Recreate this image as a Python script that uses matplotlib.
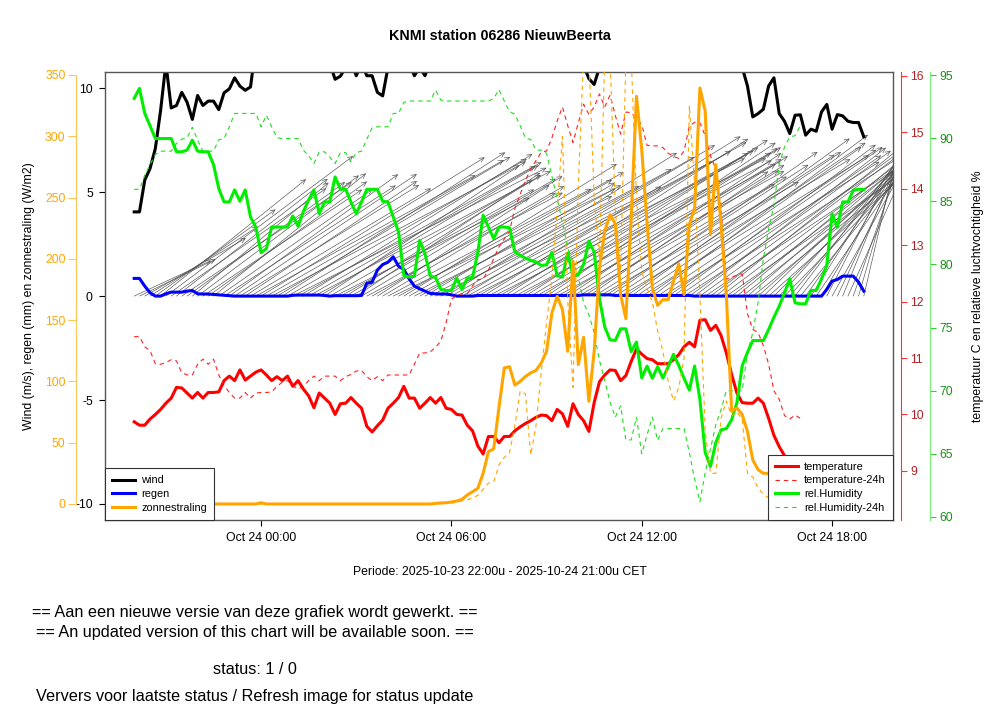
import numpy as np
import pandas as pd
import matplotlib
matplotlib.use("Agg")
import matplotlib.pyplot as plt
import matplotlib.dates as mdates
from matplotlib.patches import FancyArrowPatch
from matplotlib.lines import Line2D

plt.rcParams['font.family'] = ['Liberation Sans', 'DejaVu Sans']
plt.rcParams['axes.unicode_minus'] = False

# 10-minute values, first sample 2025-10-23 20:00 (time as on the axis)
start = '2025-10-23 20:00'

wind = [4.05, 4.05, 5.58, 6.14, 7.1, 8.94, 11.2, 9.05, 9.17, 9.8,
        9.33, 8.5, 9.65, 9.17, 9.38, 9.38, 8.97, 9.78, 9.97, 10.5,
        10.1, 9.9, 10.06, 12.0, 12.6, 13.1, 13.4, 13.0, 12.7, 13.2,
        13.6, 13.3, 12.9, 12.5, 12.8, 12.2, 11.6, 11.2, 10.43, 10.58,
        11.0, 11.3, 10.6, 11.2, 10.6, 10.6, 9.8, 9.63, 11.0, 11.8,
        12.3, 12.0, 11.2, 10.6, 11.0, 10.6, 11.3, 12.0, 12.6, 13.0,
        13.4, 13.8, 14.1, 14.4, 14.6, 14.8, 14.5, 14.2, 14.6, 14.3,
        13.9, 13.6, 13.9, 14.2, 13.8, 13.4, 13.1, 13.5, 13.2, 12.8,
        12.4, 12.7, 12.3, 11.9, 11.5, 11.1, 10.46, 10.18, 11.0, 11.6,
        12.1, 12.5, 12.8, 12.4, 12.9, 13.2, 12.8, 12.5, 12.9, 12.6,
        12.2, 12.5, 12.1, 11.8, 12.2, 11.9, 11.6, 11.9, 11.5, 11.3,
        11.6, 11.4, 11.2, 11.5, 11.1, 11.0, 10.1, 8.62, 8.78, 8.99,
        10.11, 10.5, 8.78, 8.41, 7.82, 8.7, 8.72, 7.74, 8.03, 7.93,
        8.86, 9.22, 8.03, 8.73, 8.67, 8.41, 8.35, 8.35, 7.66]

# direction the wind comes from (degrees)
wind_dir = [245, 244, 240, 237, 234, 231,
            233, 235, 232, 236, 234, 230, 233, 236, 234, 231, 235, 237, 234, 236,
            238, 236, 239, 241, 238, 240, 242, 239, 237, 240, 243, 241, 238, 240, 242, 239, 236, 240, 243, 241,
            238, 240, 236, 239, 242, 240, 237, 239, 242, 244, 241, 238, 240, 243, 241, 239, 242, 244, 241, 238,
            240, 242, 239, 241, 243, 240, 238, 241, 243, 240, 237, 239, 242, 240, 237, 239, 241, 238, 236, 239,
            241, 238, 236, 238, 240, 237, 235, 238, 240, 237, 235, 237, 239, 236, 234, 236, 238, 235, 233, 236,
            238, 235, 233, 235, 237, 234, 232, 234, 236, 233, 231, 233, 235, 232, 230, 232, 229, 231, 228, 226,
            228, 225, 222, 224, 220, 217, 219, 215, 212, 214, 210, 207, 209, 205, 202, 204, 199, 196, 193]

regen = [0.85, 0.85, 0.48, 0.16, 0.0, 0.0, 0.11, 0.19, 0.19, 0.19,
         0.24, 0.27, 0.11, 0.1, 0.1, 0.08, 0.06, 0.04, 0.02, 0.0,
         0.0, 0.0, 0.0, 0.0, 0.0, 0.0, 0.0, 0.0, 0.0, 0.0,
         0.04, 0.05, 0.05, 0.05, 0.05, 0.05, 0.03, 0.0, 0.02, 0.02,
         0.02, 0.02, 0.02, 0.03, 0.61, 0.67, 1.25, 1.52, 1.63, 1.89,
         1.44, 1.28, 0.83, 0.48, 0.35, 0.24, 0.13, 0.11, 0.1, 0.1,
         0.06, 0.0, 0.0, 0.0, 0.0, 0.03, 0.03, 0.03, 0.03, 0.03,
         0.03, 0.03, 0.03, 0.03, 0.03, 0.03, 0.03, 0.03, 0.03, 0.03,
         0.03, 0.03, 0.03, 0.03, 0.03, 0.06, 0.06, 0.06, 0.06, 0.06,
         0.06, 0.03, 0.03, 0.03, 0.03, 0.03, 0.03, 0.03, 0.03, 0.03,
         0.03, 0.03, 0.03, 0.03, 0.03, 0.03, 0.0, 0.0, 0.0, 0.0,
         0.0, 0.0, 0.0, 0.0, 0.0, 0.0, 0.0, 0.0, 0.0, 0.0,
         0.0, 0.0, 0.0, 0.0, 0.0, 0.0, 0.0, 0.0, 0.0, 0.0,
         0.0, 0.32, 0.72, 0.8, 0.96, 0.96, 0.96, 0.67, 0.24]

zon = [0, 0, 0, 0, 0, 0, 0, 0, 0, 0,
       0, 0, 0, 0, 0, 0, 0, 0, 0, 0,
       0, 0, 0, 0, 1.0, 0, 0, 0, 0, 0,
       0, 0, 0, 0, 0, 0, 0, 0, 0, 0,
       0, 0, 0, 0, 0, 0, 0, 0, 0, 0,
       0, 0, 0, 0, 0, 0, 0, 0.5, 0.8, 1.0,
       1.6, 2.4, 3.8, 7.3, 10.0, 12.8, 25.0, 42.7, 45.0, 79.0,
       111.0, 112.0, 97.0, 100.0, 104.0, 107.0, 109.0, 115.0, 124.6, 155.8,
       169.4, 158.6, 124.6, 198.0, 113.7, 136.0, 83.8, 124.6, 192.6, 222.5,
       236.0, 228.5, 170.8, 151.2, 233.4, 332.6, 289.0, 229.3, 176.2, 162.1,
       166.7, 166.7, 181.7, 195.8, 170.8, 227.9, 241.5, 339.4, 320.4, 219.7,
       276.9, 227.9, 170.8, 75.6, 78.3, 72.9, 59.0, 36.0, 28.0, 25.0,
       25.0, 20.0, 14.0, 8.0, 4.0, 1.5, 0, 0, 0, 0,
       0, 0, 0, 0, 0, 0, 0, 0, 0]

zon_24h = [0, 0, 0, 0, 0, 0, 0, 0, 0, 0,
           0, 0, 0, 0, 0, 0, 0, 0, 0, 0,
           0, 0, 0, 0, 0, 0, 0, 0, 0, 0,
           0, 0, 0, 0, 0, 0, 0, 0, 0, 0,
           0, 0, 0, 0, 0, 0, 0, 0, 0, 0,
           0, 0, 0, 0, 0, 0, 0, 0, 0.5, 0.5,
           0.8, 1.2, 2.5, 3.5, 5.0, 7.0, 12.0, 17.0, 18.0, 32.0,
           38.0, 42.0, 64.0, 92.0, 90.0, 40.0, 64.0, 108.0, 148.0, 184.0,
           240.0, 300.0, 166.0, 95.0, 260.0, 365.0, 365.0, 250.0, 200.0, 365.0,
           365.0, 240.0, 190.0, 365.0, 365.0, 250.0, 190.0, 176.0, 165.0, 141.0,
           124.6, 100.0, 84.0, 95.0, 119.0, 325.0, 260.0, 170.0, 60.0, 25.0,
           25.0, 70.0, 84.0, 72.0, 75.0, 69.0, 25.0, 22.0, 13.0, 8.0,
           5.0, 3.0, 1.0, 0, 0, 0, 0, 0, 0, 0,
           0, 0, 0, 0, 0, 0, 0, 0, 0]

temp = [9.87, 9.81, 9.81, 9.92, 10.0, 10.09, 10.2, 10.29, 10.48, 10.47,
        10.38, 10.29, 10.39, 10.29, 10.39, 10.39, 10.4, 10.6, 10.68, 10.6,
        10.79, 10.61, 10.68, 10.75, 10.79, 10.7, 10.6, 10.67, 10.6, 10.68,
        10.5, 10.6, 10.45, 10.33, 10.12, 10.38, 10.29, 10.2, 10.0, 10.19,
        10.2, 10.3, 10.2, 10.11, 9.79, 9.69, 9.8, 9.9, 10.11, 10.2,
        10.3, 10.5, 10.29, 10.29, 10.11, 10.2, 10.3, 10.2, 10.3, 10.11,
        10.09, 10.0, 9.99, 9.81, 9.71, 9.44, 9.3, 9.61, 9.61, 9.5,
        9.61, 9.61, 9.71, 9.78, 9.84, 9.89, 9.95, 9.99, 9.98, 9.89,
        10.09, 10.01, 9.79, 10.19, 10.0, 9.89, 9.7, 10.21, 10.58, 10.7,
        10.79, 10.78, 10.6, 10.69, 10.94, 11.16, 11.07, 10.99, 10.97, 10.9,
        10.9, 10.9, 10.97, 11.06, 11.2, 11.28, 11.2, 11.67, 11.68, 11.49,
        11.58, 11.4, 11.09, 10.71, 10.38, 10.21, 10.2, 10.2, 10.29, 10.2,
        9.93, 9.63, 9.43, 9.27, 9.12, 8.98, 8.85, 8.75, 8.68, 8.62,
        8.58, 8.55, 8.52, 8.5, 8.47, 8.45, 8.42, 8.4, 8.38]

nan = float('nan')
temp_24h = [11.38, 11.38, 11.2, 11.13, 10.9, 10.89, 10.92, 10.97, 10.95, 10.74,
            10.7, 10.7, 10.89, 10.98, 10.89, 10.98, 10.7, 10.51, 10.39, 10.29,
            10.29, 10.39, 10.29, 10.38, 10.39, 10.39, 10.4, 10.5, 10.57, 10.6,
            10.51, 10.45, 10.5, 10.6, 10.68, 10.6, 10.68, 10.68, 10.68, 10.6,
            10.67, 10.71, 10.77, 10.78, 10.67, 10.6, 10.67, 10.6, 10.7, 10.7,
            10.7, 10.7, 10.7, 10.89, 11.09, 11.09, 11.11, 11.19, 11.3, 11.63,
            12.04, 12.11, 12.14, 12.14, 12.28, 12.39, 12.4, 12.56, 12.76, 12.97,
            13.11, 13.25, 13.65, 13.9, 14.15, 14.35, 14.5, 14.65, 14.67, 14.9,
            15.2, 15.45, 15.12, 14.82, 15.17, 15.5, 15.32, 15.45, 15.68, 15.45,
            15.66, 15.3, 14.97, 15.36, 15.35, 15.24, 15.14, 14.77, 14.76, 14.76,
            14.73, 14.63, 14.57, 14.54, 14.67, 15.11, 15.18, 15.17, 14.94, 14.58,
            14.35, 13.64, 12.4, 12.43, 12.47, 12.49, 11.78, 11.51, 11.45, 11.22,
            10.89, 10.42, 10.27, 9.98, 9.92, 9.99, 9.93, nan, nan, nan,
            nan, nan, nan, nan, nan, nan, nan, nan, nan]

hum = [93.15, 93.94, 91.96, 90.98, 89.97, 89.97, 89.97, 89.97, 88.92, 88.92,
       89.05, 89.84, 88.97, 88.92, 88.92, 87.91, 86.01, 84.95, 84.95, 85.9,
       85.0, 85.9, 83.76, 82.96, 80.93, 81.24, 82.96, 82.96, 82.96, 82.96,
       83.84, 83.02, 84.2, 85.1, 85.9, 84.02, 84.95, 84.95, 86.93, 85.95,
       85.95, 84.95, 84.02, 84.95, 85.95, 85.95, 85.95, 85.0, 84.95, 83.76,
       82.57, 79.13, 79.0, 79.07, 81.9, 80.85, 79.07, 78.97, 78.02, 77.94,
       77.94, 78.92, 78.02, 78.92, 78.97, 80.98, 83.89, 82.96, 82.04, 82.96,
       82.96, 82.9, 81.0, 80.71, 80.5, 80.32, 80.19, 79.92, 79.97, 80.95,
       79.1, 79.0, 80.9, 79.07, 79.2, 80.0, 81.85, 80.98, 77.3, 75.05,
       74.02, 73.98, 74.9, 74.9, 73.1, 73.85, 71.02, 71.95, 70.98, 71.9,
       71.0, 71.9, 72.88, 72.0, 70.98, 70.05, 71.95, 69.3, 65.1, 64.0,
       65.88, 66.9, 67.0, 67.7, 69.05, 71.98, 73.04, 73.97, 73.97, 73.97,
       74.84, 75.82, 76.69, 77.75, 78.86, 76.96, 76.88, 76.88, 77.94, 77.94,
       78.86, 79.92, 84.0, 82.96, 84.95, 84.95, 85.87, 85.95, 85.95]

hum_24h = [85.95, 85.95, 87.06, 87.91, 88.7, 88.97, 88.97, 88.97, 89.58, 89.92,
           90.03, 90.87, 89.84, 88.97, 88.97, 88.97, 89.87, 89.97, 90.9, 91.96,
           91.96, 91.96, 91.96, 91.96, 90.9, 91.82, 90.9, 90.03, 89.97, 89.97,
           89.97, 89.97, 89.05, 88.6, 87.99, 88.92, 88.92, 88.5, 87.99, 88.86,
           88.86, 88.12, 88.86, 88.97, 89.92, 90.82, 90.9, 90.9, 90.9, 91.96,
           91.96, 92.83, 92.94, 92.94, 92.94, 92.94, 92.94, 93.81, 93.02, 92.94,
           92.94, 92.94, 92.94, 92.94, 92.94, 92.94, 92.94, 92.94, 93.15, 93.85,
           92.94, 92.1, 91.9, 91.0, 90.0, 89.9, 89.05, 89.05, 88.8, 87.0,
           85.2, 83.3, 81.3, 80.2, 79.0, 77.0, 76.0, 74.6, 72.4, 70.8,
           69.1, 67.9, 68.8, 66.1, 66.1, 67.9, 65.0, 66.5, 67.9, 66.06,
           67.0, 67.0, 67.0, 67.0, 67.0, 65.1, 63.0, 61.2, 63.5, 65.4,
           67.3, 68.5, 70.0, 70.0, 70.0, 70.0, 73.04, 74.6, 77.0, 80.45,
           82.8, 84.7, 87.9, 89.3, 90.1, 90.2, 91.0, nan, nan, nan,
           nan, nan, nan, nan, nan, nan, nan, nan, nan]

times = pd.date_range(start, periods=len(wind), freq='10min')
t = mdates.date2num(times.to_pydatetime())

# arrow scale: hours per m/s along x, m/s per m/s along y
ARROW_H = 0.66
ARROW_Y = 1.0

fig = plt.figure(figsize=(10, 7.2), dpi=100)
ax = fig.add_axes([0.105, 0.2778, 0.788, 0.6222])
ax_t = ax.twinx()
ax_h = ax.twinx()
ax_s = ax.twinx()

TICK_FS = 8.8
pad_x = 0.92 / 24
dash = (0, (4, 3.5))

# --- wind, rain and arrows (main axis)
for i in range(len(wind)):
    th = np.deg2rad(wind_dir[i] - 180)
    dx = wind[i] * np.sin(th) * ARROW_H / 24
    dy = wind[i] * np.cos(th) * ARROW_Y
    arr = FancyArrowPatch((t[i], 0), (t[i] + dx, dy),
                          arrowstyle='->,head_length=0.35,head_width=0.16',
                          mutation_scale=10, lw=0.45, color='#505050',
                          shrinkA=0, shrinkB=0)
    ax.add_patch(arr)

ax.plot(t, wind, color='black', lw=2.2)
ax.plot(t, regen, color='#0000ff', lw=2.2)
ax.set_xlim(t[0] - pad_x, t[-1] + pad_x)
ax.set_ylim(-10.77, 10.78)
ax.set_yticks([-10, -5, 0, 5, 10])
ax.xaxis.set_major_locator(mdates.HourLocator(byhour=[0, 6, 12, 18]))
ax.xaxis.set_major_formatter(mdates.DateFormatter('%b %d %H:%M'))
ax.tick_params(axis='both', direction='out', length=4.3, width=0.8,
               labelsize=TICK_FS, pad=4.5)
ax.tick_params(axis='x', pad=4)
for sp in ax.spines.values():
    sp.set_color('#555555')
    sp.set_linewidth(1.0)
ax.set_ylabel('Wind (m/s), regen (mm) en zonnestraling (W/m2)', fontsize=TICK_FS)
ax.yaxis.set_label_coords(-0.089, 0.5)

# --- temperature axis
ax_t.plot(t, temp_24h, color='#ff2020', lw=0.8, ls=dash)
ax_t.plot(t, temp, color='#ff0000', lw=2.2)
ax_t.set_ylim(8.13, 16.07)
ax_t.set_yticks(range(9, 17))
for name, sp in ax_t.spines.items():
    sp.set_visible(name == 'right')
ax_t.spines['right'].set_position(('axes', 1.0102))
ax_t.spines['right'].set_color('#ff3333')
ax_t.tick_params(axis='y', direction='out', length=4.3, width=0.8, colors='#ff3333',
                 labelcolor='#b22222', labelsize=TICK_FS, pad=2.5)

# --- humidity axis
ax_h.plot(t, hum_24h, color='#22dd22', lw=0.8, ls=dash)
ax_h.plot(t, hum, color='#00ee00', lw=2.2)
ax_h.set_ylim(59.76, 95.24)
ax_h.set_yticks(range(60, 96, 5))
for name, sp in ax_h.spines.items():
    sp.set_visible(name == 'right')
ax_h.spines['right'].set_position(('axes', 1.047))
ax_h.spines['right'].set_color('#77ee77')
ax_h.tick_params(axis='y', direction='out', length=4.3, width=0.8, colors='#33cc33',
                 labelcolor='#1e8c1e', labelsize=TICK_FS, pad=2.5)
ax_h.set_ylabel('temperatuur C en relatieve luchtvochtigheid %', fontsize=TICK_FS)
ax_h.yaxis.set_label_coords(1.1003, 0.5)

# --- solar radiation axis (left, outer)
ax_s.plot(t, zon_24h, color='#ffa500', lw=0.8, ls=dash)
ax_s.plot(t, zon, color='#ffa500', lw=2.2)
ax_s.set_ylim(-13.05, 352.4)
ax_s.set_yticks(range(0, 351, 50))
ax_s.yaxis.tick_left()
for name, sp in ax_s.spines.items():
    sp.set_visible(name == 'left')
ax_s.spines['left'].set_position(('axes', -0.0368))
ax_s.spines['left'].set_bounds(0, 350)
ax_s.spines['left'].set_color('#ffc45a')
ax_s.tick_params(axis='y', direction='out', length=5.5, width=0.8, colors='#ffc45a',
                 labelcolor='#ffa500', labelsize=TICK_FS, pad=2)

# --- legends (on the top-most axis so nothing covers them)
leg_kw = dict(fontsize=7.9, frameon=True, fancybox=False, edgecolor='#333333',
              framealpha=1, handlelength=2.1, handletextpad=0.55,
              borderpad=0.65, labelspacing=0.34, borderaxespad=0)
h_left = [Line2D([], [], color='black', lw=2.2),
          Line2D([], [], color='#0000ff', lw=2.2),
          Line2D([], [], color='#ffa500', lw=2.2)]
leg1 = ax_s.legend(h_left, ['wind', 'regen', 'zonnestraling'],
                   loc='lower left', **leg_kw)
leg1.get_frame().set_linewidth(0.8)
ax_s.add_artist(leg1)
h_right = [Line2D([], [], color='#ff0000', lw=2.2),
           Line2D([], [], color='#ff2020', lw=0.8, ls=dash),
           Line2D([], [], color='#00ee00', lw=2.2),
           Line2D([], [], color='#22dd22', lw=0.8, ls=dash)]
leg2 = ax_s.legend(h_right, ['temperature', 'temperature-24h', 'rel.Humidity', 'rel.Humidity-24h'],
                   loc='lower right', **leg_kw)
leg2.get_frame().set_linewidth(0.8)

# --- texts
fig.text(0.5, 0.95, 'KNMI station 06286 NieuwBeerta', ha='center', va='center',
         fontsize=10.3, fontweight='bold')
fig.text(0.5, 0.2056, 'Periode: 2025-10-23 22:00u - 2025-10-24 21:00u CET',
         ha='center', va='center', fontsize=TICK_FS)
fig.text(0.255, 0.15, '== Aan een nieuwe versie van deze grafiek wordt gewerkt. ==',
         ha='center', va='center', fontsize=11.7)
fig.text(0.255, 0.1222, '== An updated version of this chart will be available soon. ==',
         ha='center', va='center', fontsize=11.7)
fig.text(0.255, 0.0708, 'status: 1 / 0', ha='center', va='center', fontsize=11.7)
fig.text(0.2545, 0.0333, 'Ververs voor laatste status / Refresh image for status update',
         ha='center', va='center', fontsize=11.7)

fig.savefig('out.png', dpi=100)
